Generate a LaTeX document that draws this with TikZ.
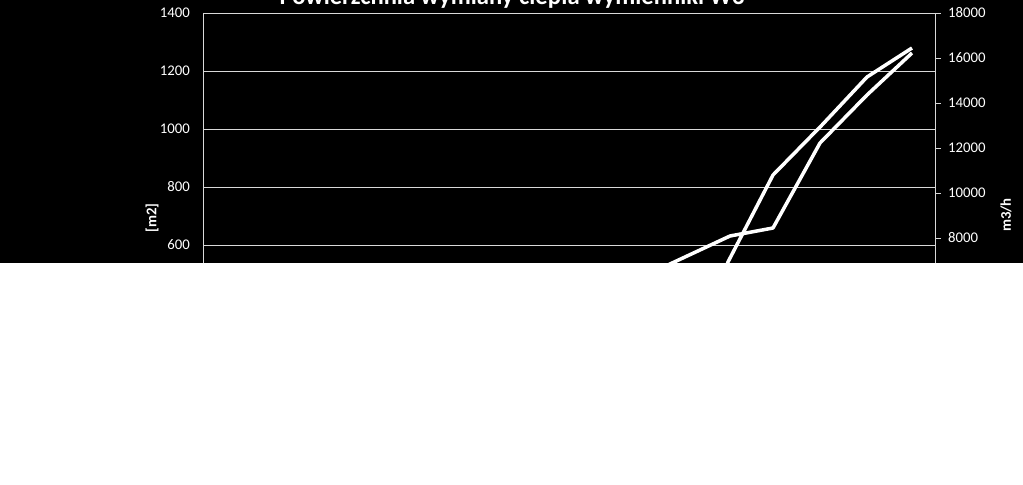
\documentclass[tikz,border=0pt]{standalone}
\usepackage{fontspec}
\setmainfont{Carlito}
\begin{document}
\begin{tikzpicture}[x=0.5mm,y=-0.5mm,
  grid/.style={draw=white!85!black,line width=1.2pt},
  curve/.style={draw=white,line width=5pt,line join=round},
  ticklbl/.style={text=white,font=\fontsize{21}{22}\selectfont,inner sep=0pt}]

  \useasboundingbox (0,0) rectangle (1023,485);
  \fill[black] (0,0) rectangle (1023,263);
  \begin{scope}
  \clip (0,0) rectangle (1023,263);

  % title, cut at the top
  \node[text=white,font=\bfseries\fontsize{35}{37}\selectfont,anchor=base] (title) at (512,5) {Powierzchnia wymiany ciepła wymienniki W3};

  % grid lines and axes
  \foreach \y/\v in {13/1400,71/1200,129/1000,187/800,245/600}{
    \draw[grid] (203,\y) -- (935,\y);
    \node[ticklbl,anchor=east] at (190,\y) {\v};
  }
  \foreach \y/\v in {13/18000,58/16000,103/14000,148/12000,193/10000,238/8000}{
    \draw[grid] (935,\y) -- (941,\y);
    \node[ticklbl,anchor=west] at (948,\y) {\v};
  }
  \draw[grid] (203,13) -- (203,263);
  \draw[grid] (935,13) -- (935,263);

  \node[text=white,font=\bfseries\fontsize{21}{22}\selectfont,rotate=90] (ylabl) at (152,218) {[m2]};
  \node[text=white,font=\bfseries\fontsize{21}{22}\selectfont,rotate=90] (ylabr) at (1006,215) {m3/h};

  % data
  \draw[curve] (662,268) -- (670,264) -- (730,236) -- (773,228) -- (820,143) -- (867,95) -- (912,53);
  \draw[curve] (726,268) -- (728,262) -- (773,175) -- (822,125) -- (867,77) -- (912,48);
  \end{scope}
\end{tikzpicture}
\end{document}
